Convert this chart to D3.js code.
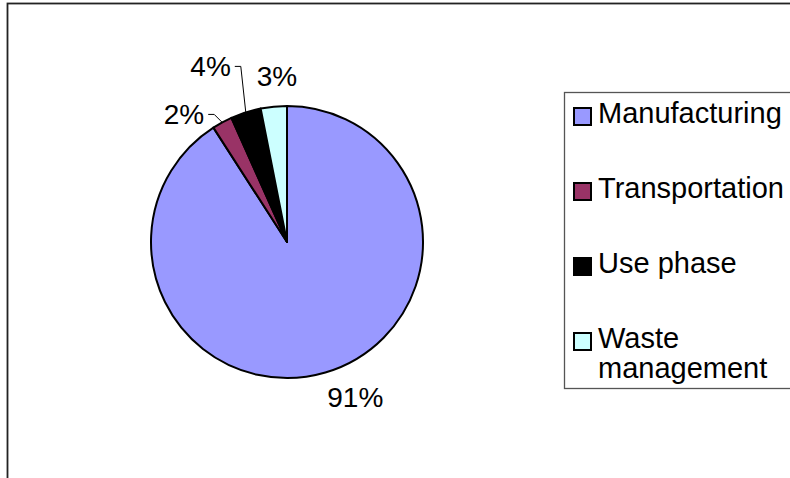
<!DOCTYPE html>
<html>
<head>
<meta charset="utf-8">
<script src="https://cdn.jsdelivr.net/npm/d3@7"></script>
<style>
  html, body { margin: 0; padding: 0; background: #fff; }
  svg { display: block; font-family: "Liberation Sans", Arial, sans-serif; }
</style>
</head>
<body>
<svg id="chart" width="790" height="478"></svg>
<script>
// data
const categories = [ "Manufacturing", "Transportation", "Use phase", "Waste management" ] ;
const shares = [ 90.9, 2.4, 3.6, 3.1 ] ;
const labels = [ "91%", "2%", "4%", "3%" ] ;
const colors = [ "#9999ff", "#993366", "#000000", "#ccffff" ] ;

const width = 790 ;
const height = 478 ;

const svg = d3.select( "#chart" ) ;

// outer frame (cropped chart border)
svg.append( "rect" )
	.attr( "x", 7.5 )
	.attr( "y", 3.5 )
	.attr( "width", 820 )
	.attr( "height", 520 )
	.attr( "fill", "none" )
	.attr( "stroke", "#222" )
	.attr( "stroke-width", 1.8 ) ;

const cx = 287, cy = 242, radius = 136 ;

const pie = d3.pie()
	.sort( null )
	.value( function(d) { return d ; } ) ;

const arcs = pie( shares ) ;

const arc = d3.arc()
	.innerRadius( 0 )
	.outerRadius( radius ) ;

const g = svg.append( "g" )
	.attr( "transform", "translate(" + cx + "," + cy + ")" ) ;

g.selectAll( "path" )
	.data( arcs )
	.enter().append( "path" )
		.attr( "d", arc )
		.attr( "fill", function(d, i) { return colors[i] ; } )
		.attr( "stroke", "#000" )
		.attr( "stroke-width", 2 )
		.attr( "stroke-linejoin", "round" ) ;

function mid(d) { return (d.startAngle + d.endAngle) / 2 ; }
function at(a, r) { return [ Math.sin(a) * r, -Math.cos(a) * r ] ; }

// label placement: gap outside the rim, or a leader elbow for the crowded ones
const labelGap = [ 14, 0, 0, 19 ] ;
const leaderElbow = [ null, [ -8, -8 ], [ -5, -46 ], null ] ;

arcs.forEach( function(d, i) {
	const a = mid(d) ;
	if( leaderElbow[i] ) {
		const p0 = at( a, radius ) ;
		const p1 = [ p0[0] + leaderElbow[i][0], p0[1] + leaderElbow[i][1] ] ;
		const p2 = [ p1[0] - 6, p1[1] ] ;
		g.append( "polyline" )
			.attr( "points", [p0, p1, p2].map( function(p) { return p.join(",") ; } ).join(" ") )
			.attr( "fill", "none" )
			.attr( "stroke", "#000" )
			.attr( "stroke-width", 1 ) ;
		g.append( "text" )
			.attr( "x", p2[0] - 4 )
			.attr( "y", p2[1] + 10 )
			.attr( "text-anchor", "end" )
			.style( "font-size", "28px" )
			.text( labels[i] ) ;
	} else {
		const p = at( a, radius + labelGap[i] ) ;
		const below = Math.cos(a) < 0 ;
		g.append( "text" )
			.attr( "x", below ? p[0] + 26 : p[0] + 5 )
			.attr( "y", below ? p[1] + 21 : p[1] - 2 )
			.attr( "text-anchor", "middle" )
			.style( "font-size", "28px" )
			.text( labels[i] ) ;
	}
}) ;

// legend
const legend = svg.append( "g" ) ;

legend.append( "rect" )
	.attr( "x", 564.5 )
	.attr( "y", 92.5 )
	.attr( "width", 240 )
	.attr( "height", 296 )
	.attr( "fill", "#fff" )
	.attr( "stroke", "#555" )
	.attr( "stroke-width", 1.3 ) ;

const rowY = d3.scalePoint()
	.domain( categories )
	.range( [ 123, 348 ] ) ;

const rows = legend.selectAll( "g.row" )
	.data( categories )
	.enter().append( "g" )
		.attr( "class", "row" )
		.attr( "transform", function(d) { return "translate(0," + rowY(d) + ")" ; } ) ;

rows.append( "rect" )
	.attr( "x", 574 )
	.attr( "y", -15 )
	.attr( "width", 17 )
	.attr( "height", 17 )
	.attr( "fill", function(d, i) { return colors[i] ; } )
	.attr( "stroke", "#000" )
	.attr( "stroke-width", 2 ) ;

rows.append( "text" )
	.attr( "x", 598 )
	.attr( "y", 0 )
	.style( "font-size", "29px" )
	.each( function(d) {
		const words = d === "Waste management" ? [ "Waste", "management" ] : [ d ] ;
		const t = d3.select( this ) ;
		words.forEach( function(w, k) {
			t.append( "tspan" )
				.attr( "x", 598 )
				.attr( "dy", k === 0 ? 0 : 30 )
				.text( w ) ;
		}) ;
	}) ;
</script>
</body>
</html>
